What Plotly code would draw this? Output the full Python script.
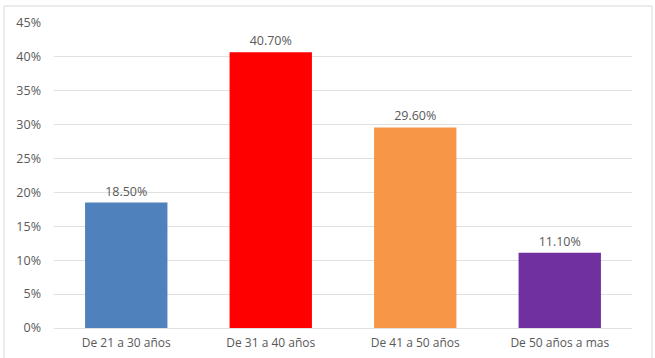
import plotly.graph_objects as go

categories = ["De 21 a 30 años", "De 31 a 40 años", "De 41 a 50 años", "De 50 años a mas"]
values = [0.185, 0.407, 0.296, 0.111]
labels = ["18.50%", "40.70%", "29.60%", "11.10%"]
colors = ["#4F81BD", "#FF0000", "#F79646", "#7030A0"]
tick_vals = [0, 0.05, 0.10, 0.15, 0.20, 0.25, 0.30, 0.35, 0.40, 0.45]
tick_text = ["0%", "5%", "10%", "15%", "20%", "25%", "30%", "35%", "40%", "45%"]

FONT = "Open Sans, Calibri, sans-serif"

fig = go.Figure(go.Bar(
    x=categories, y=values, marker=dict(color=colors, line=dict(width=0)),
    text=labels, textposition="outside", cliponaxis=False,
    textfont=dict(family=FONT, size=12.5, color="#595959"),
    width=0.57,
))

L, R, T, B = 54, 23, 23, 30
W, H = 655, 358
pw, ph = W - L - R, H - T - B

def px(x):
    return (x - L) / pw

def py(y):
    return (H - B - y) / ph

fig.add_shape(type="rect", xref="paper", yref="paper",
              x0=px(4), x1=px(652), y0=py(362), y1=py(6),
              line=dict(color="#D9D9D9", width=1), fillcolor="rgba(0,0,0,0)", layer="below")

fig.update_layout(
    width=W, height=H,
    margin=dict(l=L, r=R, t=T, b=B, autoexpand=False),
    paper_bgcolor="white", plot_bgcolor="white",
    showlegend=False,
    font=dict(family=FONT, size=12, color="#595959"),
    xaxis=dict(showgrid=False, showline=False, ticks="", ticklabelstandoff=6,
               automargin=False, tickfont=dict(size=12, color="#595959")),
    yaxis=dict(range=[0, 0.45], tickvals=tick_vals, ticktext=tick_text,
               showgrid=True, gridcolor="#E0E0E0", gridwidth=1,
               zeroline=True, zerolinecolor="#E0E0E0", zerolinewidth=1,
               showline=False, ticks="", ticklen=0, ticklabelstandoff=12,
               automargin=False, tickfont=dict(size=12.5, color="#595959")),
)

fig.write_html("out.html")
